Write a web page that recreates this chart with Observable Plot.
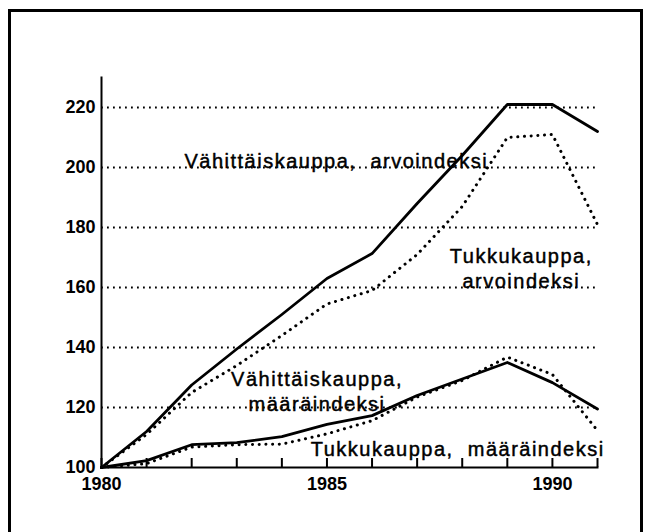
<!DOCTYPE html>
<html>
<head>
<meta charset="utf-8">
<script src="https://cdn.jsdelivr.net/npm/d3@7"></script>
<script src="https://cdn.jsdelivr.net/npm/@observablehq/plot@0.6"></script>
<style>
  html, body { margin: 0; padding: 0; background: #fff; overflow: hidden; }
  #wrap { position: relative; width: 653px; height: 532px; overflow: hidden; }
  #border { position: absolute; left: 8px; top: 9px; width: 635px; height: 600px;
            border: 3px solid #000; border-bottom: none; box-sizing: border-box; pointer-events: none; }
  #chart svg text { white-space: pre; }
  #chart svg g[aria-label="text"] text { letter-spacing: 1.5px; }
</style>
</head>
<body>
<div id="wrap">
  <div id="chart"></div>
  <div id="border"></div>
</div>
<script>
// ---- data ----
const years = [1980, 1981, 1982, 1983, 1984, 1985, 1986, 1987, 1988, 1989, 1990, 1991];
const vahittaisArvo  = [100, 112, 127.5, 139.5, 151, 163, 171.3, 188, 204, 221, 221, 212];
const tukkuArvo      = [100, 111, 125, 134, 144, 154.5, 159, 171, 187, 210, 211, 181];
const vahittaisMaara = [100, 102.3, 107.6, 108.3, 110.3, 114.4, 117.3, 124, 129.5, 135, 128.3, 119.5];
const tukkuMaara     = [100, 101.3, 106.8, 107.6, 107.8, 111.2, 115.6, 123.5, 129, 136.8, 131, 112.3];
const yTicks = [100, 120, 140, 160, 180, 200, 220];
const xLabelTicks = [1980, 1985, 1990];
const seriesNames = ["Vähittäiskauppa, arvoindeksi", "Tukkukauppa, arvoindeksi",
                     "Vähittäiskauppa, määräindeksi", "Tukkukauppa, määräindeksi"];

const toRows = (name, vals) => years.map((y, i) => ({series: name, year: y, value: vals[i]}));
const solidRows = [...toRows(seriesNames[0], vahittaisArvo), ...toRows(seriesNames[2], vahittaisMaara)];
const dottedRows = [...toRows(seriesNames[1], tukkuArvo), ...toRows(seriesNames[3], tukkuMaara)];

const labelFont = {fontFamily: "'Liberation Sans', Arial, sans-serif", fontSize: 20, fill: "black", stroke: "black", strokeWidth: 0.45};

const chart = Plot.plot({
  width: 653,
  height: 532,
  marginLeft: 101,
  marginRight: 56,
  marginTop: 77,
  marginBottom: 65,
  style: {fontFamily: "'Liberation Sans', Arial, sans-serif", background: "white", color: "black"},
  x: {type: "linear", domain: [1980, 1991]},
  y: {domain: [100, 230]},
  marks: [
    Plot.gridY(yTicks.filter(d => d > 100), {stroke: "black", strokeOpacity: 1, strokeWidth: 1.8, strokeDasharray: "1.8 4.2"}),
    Plot.frame({anchor: "left", stroke: "black", strokeWidth: 2}),
    Plot.frame({anchor: "bottom", stroke: "black", strokeWidth: 2}),
    Plot.axisX(years, {tickSize: 9, dy: -9, tickFormat: () => "", strokeWidth: 2, label: null}),
    Plot.axisX(xLabelTicks, {tickSize: 0, tickPadding: 10, tickFormat: d => String(d), fontSize: 18, fontWeight: "bold", label: null}),
    Plot.axisY(yTicks, {tickSize: 0, tickPadding: 6, fontSize: 18, fontWeight: "bold", label: null}),
    Plot.line(solidRows, {x: "year", y: "value", z: "series", stroke: "black", strokeWidth: 2.8, strokeLinejoin: "round"}),
    Plot.line(dottedRows, {x: "year", y: "value", z: "series", stroke: "black", strokeWidth: 3, strokeDasharray: "0.1 6.6", strokeLinecap: "round"}),
    Plot.text(["Vähittäiskauppa,  arvoindeksi"], {x: 1981.84, y: 204.6, text: d => d, textAnchor: "start", lineAnchor: "top", ...labelFont}),
    Plot.text(["Tukkukauppa,\narvoindeksi"], {x: 1989.31, y: 174.2, text: d => d, textAnchor: "middle", lineAnchor: "top", lineHeight: 1.25, ...labelFont}),
    Plot.text(["Vähittäiskauppa,\nmääräindeksi"], {x: 1984.78, y: 133.1, text: d => d, textAnchor: "middle", lineAnchor: "top", lineHeight: 1.25, ...labelFont}),
    Plot.text(["Tukkukauppa,  määräindeksi"], {x: 1984.64, y: 108.6, text: d => d, textAnchor: "start", lineAnchor: "top", ...labelFont})
  ]
});
document.getElementById("chart").appendChild(chart);
</script>
</body>
</html>
